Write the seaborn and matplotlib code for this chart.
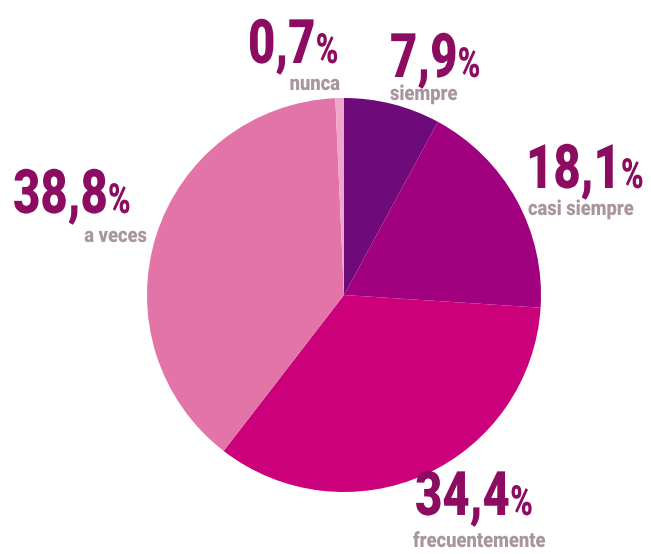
import matplotlib
matplotlib.use("Agg")
import matplotlib.pyplot as plt
from matplotlib.patheffects import AbstractPathEffect
from matplotlib.transforms import Affine2D
import seaborn as sns

categories = ["siempre", "casi siempre", "frecuentemente", "a veces", "nunca"]
values = [7.9, 18.1, 34.4, 38.8, 0.7]
value_labels = ["7,9", "18,1", "34,4", "38,8", "0,7"]
colors = ["#6E0A7A", "#A1007F", "#CC007B", "#E274A8", "#EFA6CB"]

sns.set_theme(style="white")
plt.rcParams["font.family"] = ["Roboto", "DejaVu Sans"]


class YStretch(AbstractPathEffect):
    """Stretch glyphs vertically around the baseline (display coords)."""
    def __init__(self, sy, oy):
        super().__init__()
        self.sy = sy
        self.oy = oy

    def draw_path(self, renderer, gc, tpath, affine, rgbFace=None):
        a = affine + Affine2D().translate(0, -self.oy).scale(1, self.sy).translate(0, self.oy)
        renderer.draw_path(gc, tpath, a, rgbFace)


W, H = 651, 554
fig = plt.figure(figsize=(W / 100, H / 100), dpi=100)
ax = fig.add_axes([0, 0, 1, 1])

ax.pie(values, colors=colors, startangle=90, counterclock=False,
       center=(344, H - 295), radius=197, frame=True,
       wedgeprops=dict(linewidth=0))
ax.set_xlim(0, W)
ax.set_ylim(0, H)
ax.set_aspect("equal")
ax.axis("off")

num_color = "#8B0C60"
sub_color = "#A8959F"
NUM_FS, NUM_SY = 34, 1.3
PCT_FS, PCT_SY = 22, 1.36
SUB_FS, SUB_SY = 13.2, 1.14

# layout: (number left x, number baseline y, sub x, sub baseline y, sub ha) in top-origin pixels
layout = {
    "nunca": (248, 63, 340, 90, "right"),
    "siempre": (390, 77, 390, 100, "left"),
    "casi siempre": (526, 188, 528, 215, "left"),
    "a veces": (13, 213, 147, 242, "right"),
    "frecuentemente": (415, 515, 413, 547, "left"),
}

fig.canvas.draw()
renderer = fig.canvas.get_renderer()


def dy(y):
    return ax.transData.transform((0, y))[1]


for cat, lab in zip(categories, value_labels):
    nx, ny, sx, sy, sha = layout[cat]
    t = ax.text(nx, H - ny, lab, fontsize=NUM_FS, fontweight="black", color=num_color,
                ha="left", va="baseline",
                path_effects=[YStretch(NUM_SY, dy(H - ny))])
    bb = t.get_window_extent(renderer=renderer)
    px = ax.transData.inverted().transform((bb.x1, 0))[0]
    ax.text(px, H - ny, "%", fontsize=PCT_FS, fontweight="black", color=num_color,
            ha="left", va="baseline",
            path_effects=[YStretch(PCT_SY, dy(H - ny))])
    ax.text(sx, H - sy, cat, fontsize=SUB_FS, fontweight="black", color=sub_color,
            ha=sha, va="baseline",
            path_effects=[YStretch(SUB_SY, dy(H - sy))])

fig.savefig("out.png", dpi=100, facecolor="white")
